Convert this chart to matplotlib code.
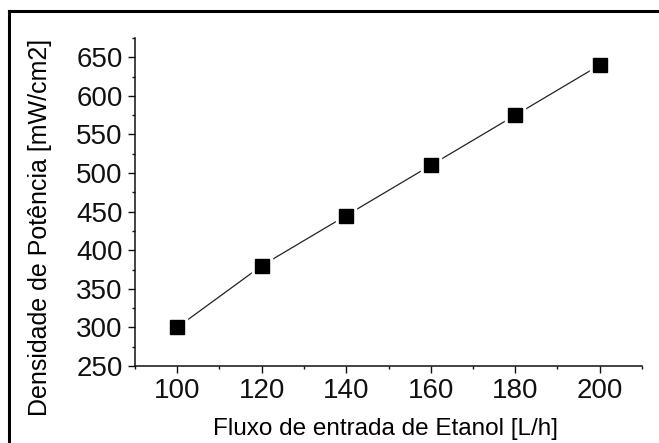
import matplotlib
matplotlib.use('Agg')
import matplotlib.pyplot as plt
from matplotlib.lines import Line2D
from matplotlib.ticker import MultipleLocator

# dados
fluxo = [100, 120, 140, 160, 180, 200]          # L/h
densidade = [300, 380, 445, 510, 575, 640]      # mW/cm2

xLabel = 'Fluxo de entrada de Etanol [L/h]'
yLabel = 'Densidade de Potência [mW/cm2]'

plt.rcParams['font.family'] = ['Liberation Sans', 'DejaVu Sans']

W, H = 659, 443
fig = plt.figure(figsize=(W / 100, H / 100), dpi=100)
ax = fig.add_axes([135 / W, 1 - 366 / H, (642 - 135) / W, (366 - 38) / H])

# linha fina que nao encosta nos marcadores (estilo Origin)
ax.plot(fluxo, densidade, '-', color='#222222', lw=0.9, zorder=2)
ax.plot(fluxo, densidade, 's', ms=14, color='white', mec='white', zorder=3)
ax.plot(fluxo, densidade, 's', ms=9.5, color='black', mec='black', zorder=4)

ax.set_xlim(90, 210)
ax.set_ylim(250, 675)
ax.xaxis.set_major_locator(MultipleLocator(20))
ax.xaxis.set_minor_locator(MultipleLocator(10))
ax.yaxis.set_major_locator(MultipleLocator(50))
ax.yaxis.set_minor_locator(MultipleLocator(25))

for side in ['top', 'right']:
    ax.spines[side].set_visible(False)
for side in ['left', 'bottom']:
    ax.spines[side].set_linewidth(1.1)
    ax.spines[side].set_color('#111111')

ax.tick_params(which='major', direction='out', length=5, width=1, labelsize=20, pad=4, colors='#111111')
ax.tick_params(which='minor', direction='out', length=2.5, width=1, colors='#111111')

ax.set_xlabel(xLabel, fontsize=17.5)
ax.set_ylabel(yLabel, fontsize=18)
ax.xaxis.set_label_coords(0.495, -0.192)
ax.yaxis.set_label_coords(-0.187, 0.422)
ax.xaxis.label.set_va('center')
ax.yaxis.label.set_va('center')

# moldura da figura original (so esquerda e topo)
fig.add_artist(Line2D([9 / W, 9 / W], [0, 1 - 11 / H], transform=fig.transFigure, color='black', lw=2.2))
fig.add_artist(Line2D([9 / W, 1], [1 - 11 / H, 1 - 11 / H], transform=fig.transFigure, color='black', lw=2.2))

fig.savefig('out.png', dpi=100)
